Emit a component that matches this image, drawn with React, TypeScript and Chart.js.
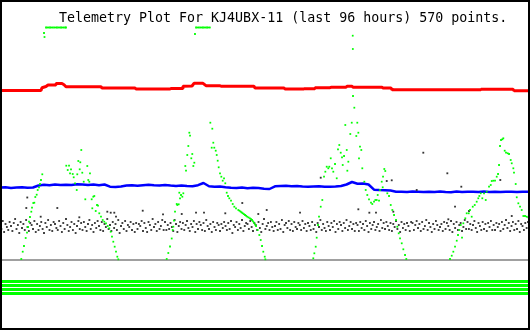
import React, { useEffect, useRef } from "react";
import { Chart, registerables } from "chart.js";

Chart.register(...registerables);

const TITLE = "Telemetry Plot For KJ4UBX-11 (last 96 hours) 570 points.";
const HOURS_SPAN = 96.36;

// Red channel (step-like trace)
const redHours = [0, 7.45, 7.64, 8.36, 8.73, 10, 10.18, 11.27, 11.64, 12, 18.36, 18.55, 24.55, 24.73, 30.91, 31.09, 33.09, 33.27, 34.91, 35.27, 36.91, 37.45, 40, 40.18, 46.18, 46.36, 51.64, 51.82, 55.09, 55.27, 57.09, 57.27, 60, 60.18, 62.91, 63.09, 64, 64.18, 69.45, 69.64, 71.09, 71.27, 87.27, 87.45, 93.27, 93.45, 96.36];
const redValues = [169.5, 169.5, 172.3, 173.5, 175, 175, 176.5, 176.5, 175.3, 173.3, 173.3, 172, 172, 171, 171, 171.5, 171.5, 173.7, 174, 176.7, 176.7, 174.3, 174.3, 173.7, 173.7, 172, 172, 171, 171, 171.3, 171.3, 172.3, 172.3, 172.7, 172.7, 173.7, 173.7, 172.7, 172.7, 172, 172, 170.3, 170.3, 170.7, 170.7, 169.3, 169.3];

// Blue channel, one sample per hour
const blueStepHours = 1;
const blueValues = [
  72.5, 72.7, 72, 72.5, 72.8, 72.2, 72.5, 74.5, 75.3, 74.8,
  75.5, 75, 75.3, 75, 75.8, 75.4, 75, 75.5, 74.8, 75.5,
  73.3, 73, 73.5, 74.5, 74.7, 74.3, 74.8, 75.2, 74.7, 74.5,
  75, 74.4, 74, 74.5, 74, 73.8, 74.8, 77, 73.7, 73.3,
  73.5, 72.8, 72.2, 72, 72.5, 71.8, 72.2, 72, 71.3, 71,
  73.7, 74, 74.2, 73.8, 74, 73.5, 73.3, 73.5, 73.7, 73.3,
  73.2, 73.5, 74, 75.5, 78, 76.3, 76.5, 75.5, 70.3, 70,
  69.8, 69.5, 68.3, 68.2, 68, 68.4, 68.2, 68, 68.3, 68.1,
  68.5, 68, 67.8, 68.4, 68, 68.3, 68.2, 68, 68.4, 68.1,
  68.2, 68, 68.3, 68.2, 68.1, 68.3, 68.2
];

// Black channel, one sample every quarter hour
const blackStepHours = 0.25;
const blackValues = [
  37, 31, 39, 28, 36, 33, 30, 38, 34, 29, 37, 41, 31, 35, 27, 38, 32, 36, 30, 40,
  33, 29, 37, 35, 31, 39, 28, 36, 30, 34, 38, 31, 27, 37, 33, 40, 30, 35, 29, 38,
  36, 32, 30, 39, 34, 28, 37, 31, 41, 35, 29, 33, 38, 30, 36, 27, 34, 39, 31, 37,
  30, 38, 33, 29, 36, 40, 31, 35, 28, 37, 32, 39, 34, 30, 38, 29, 36, 33, 41, 31,
  35, 29, 38, 32, 36, 30, 40, 27, 34, 37, 31, 39, 29, 35, 33, 38, 30, 36, 28, 37,
  31, 36, 34, 39, 29, 37, 32, 28, 38, 35, 30, 41, 33, 36, 29, 38, 31, 34, 40, 30,
  38, 30, 35, 31, 37, 33, 29, 40, 36, 28, 34, 38, 31, 37, 30, 35, 39, 32, 29, 36,
  33, 39, 28, 36, 31, 38, 35, 30, 37, 29, 40, 34, 31, 36, 28, 38, 33, 30, 37, 35,
  29, 36, 32, 38, 34, 30, 37, 31, 39, 27, 35, 33, 38, 30, 36, 32, 40, 29, 34, 37,
  36, 31, 39, 33, 29, 37, 35, 30, 38, 32, 28, 36, 41, 31, 34, 37, 30, 38, 33, 29,
  34, 38, 30, 36, 31, 40, 28, 35, 37, 32, 39, 30, 36, 29, 38, 33, 31, 37, 35, 30,
  39, 32, 36, 29, 37, 34, 30, 38, 31, 35, 28, 37, 33, 40, 30, 36, 32, 29, 38, 34,
  30, 37, 33, 39, 28, 36, 31, 38, 35, 29, 37, 32, 40, 30, 34, 38, 31, 36, 29, 37,
  35, 29, 38, 32, 36, 30, 39, 34, 28, 37, 31, 35, 38, 30, 33, 36, 29, 40, 32, 37,
  31, 38, 34, 30, 37, 29, 36, 33, 39, 31, 35, 28, 38, 32, 36, 30, 37, 34, 29, 38,
  37, 30, 35, 39, 32, 36, 29, 38, 31, 34, 40, 30, 37, 33, 28, 36, 31, 39, 35, 30,
  33, 36, 29, 38, 31, 37, 34, 30, 39, 28, 36, 32, 38, 30, 35, 37, 29, 33, 40, 31,
  38, 31, 36, 30, 35, 39, 32, 28, 37, 34, 30, 38, 31, 36, 29, 37, 33, 39, 30, 35,
  30, 37, 33, 36, 29, 38, 31, 35, 40, 32, 37, 29, 34, 38, 30, 36, 31, 39, 28, 36,
  34, 30, 37, 32, 38
];
const blackOutlierHours = [4.78, 4.96, 7.4, 10.42, 14.42, 19.51, 20.13, 20.78, 21.09, 25.95, 29.64, 33.04, 35.64, 37.09, 40.96, 44.05, 46.96, 48.49, 54.55, 58.31, 65.15, 67.15, 68.36, 70.31, 71.22, 71.51, 75.76, 76.96, 81.33, 81.51, 82.73, 83.87, 85.27, 90.96, 93.04];
const blackOutlierValues = [52, 62.5, 43.3, 52, 42.7, 48.3, 47.3, 47.3, 43.3, 49.3, 45.7, 46, 47.3, 47.3, 46.7, 57, 46, 50, 47.3, 82.3, 50.7, 47.3, 47.3, 79, 79.7, 48.3, 70, 107.3, 86.7, 40.7, 53.3, 73.3, 49, 80, 44];

// Green channel
const greenHours = [
  3.87, 4.13, 4.36, 4.67, 4.91, 5.09, 5.27, 5.45, 5.69, 5.82, 6.05, 6.24, 6.42, 6.67, 6.85, 7.09, 7.27, 7.45, 7.69, 8.0, 8.09,
  8.36, 8.6, 8.85, 9.1, 9.35, 9.6, 9.85, 10.1, 10.35, 10.6, 10.85, 11.1, 11.35, 11.6, 11.85, 12.0,
  12.05, 12.31, 12.55, 12.73, 12.91, 13.22, 13.4, 13.64, 13.95, 14.05, 14.24, 14.49, 14.6, 14.78, 14.96, 15.22, 15.51, 15.87, 16.05, 16.24, 16.36, 16.67, 16.78, 16.96, 17.15, 17.4, 17.64, 17.82,
  18.05, 18.36, 18.67, 18.96, 19.27, 19.58, 19.87, 20.13, 20.36, 20.6, 20.85, 21.09, 21.33, 21.51,
  30.31, 30.6, 30.91, 31.22, 31.4, 31.51, 31.64, 31.82, 32.13, 32.24, 32.49, 32.6, 32.73, 32.91, 33.15, 33.33, 33.69, 33.82, 34.05, 34.24, 34.42, 34.55, 34.78, 34.96, 35.15, 35.33, 35.45,
  35.64, 35.9, 36.15, 36.4, 36.65, 36.9, 37.15, 37.4, 37.65, 37.9, 38.15,
  38.24, 38.49, 38.6, 38.78, 38.96, 39.22, 39.4, 39.58, 39.76, 40, 40.24, 40.49, 40.73, 40.96, 41.22, 41.45, 41.69, 42, 42.31, 42.6, 42.91, 43.33, 43.55, 43.76, 43.95, 44.13, 44.35, 44.55, 44.75, 44.96, 45.2, 45.45, 45.65, 45.82, 46.0, 46.18, 46.37, 46.55, 46.85, 47.15, 47.4, 47.64, 47.87, 48.13, 48.24,
  56.96, 57.15, 57.4, 57.58, 57.82, 58, 58.31, 58.6, 58.91, 59.15, 59.4, 59.69, 59.87, 60.13, 60.36, 60.6, 60.91, 61.22, 61.45, 61.69, 61.95, 62.18, 62.31, 62.55, 62.78, 63.04, 63.15, 63.33, 63.69, 63.95, 64.13, 64.15, 64.18, 64.42, 64.78, 64.96, 65.15, 65.27, 65.45, 65.69, 65.87, 66.24, 66.49, 66.78, 67.09, 67.45, 67.69, 68, 68.24, 68.49, 68.67, 68.91, 69.09, 69.4, 69.58, 69.64, 69.87, 70.05, 70.42, 70.73, 71.04, 71.33, 71.64, 72, 72.24, 72.49, 72.73, 73.04, 73.33, 73.64, 73.87,
  81.82, 82.13, 82.42, 82.73, 83.04, 83.27, 83.51, 83.76, 84, 84.24, 84.6, 84.85, 85.22, 85.45, 85.76, 85.95, 86.31, 86.67, 86.96, 87.15, 87.4, 87.69, 88, 88.31, 88.49, 88.91, 89.22, 89.4, 89.69, 90, 90.31, 90.55, 90.73, 90.91, 91.09, 91.33, 91.51, 91.76, 92, 92.31, 92.55, 92.85, 93.04, 93.33, 93.45, 93.76, 93.95, 94.24, 94.55, 94.85, 95.15, 95.45, 95.76, 96.05
];
const greenValues = [
  1, 8.3, 14, 22, 27.3, 33, 38.3, 43, 48.3, 52.3, 57, 57.3, 63, 65.3, 70, 72.7, 76, 80, 85.7, 227, 223,
  232.5, 232.5, 232.5, 232.5, 232.5, 232.5, 232.5, 232.5, 232.5, 232.5, 232.5, 232.5, 232.5, 232.5, 232.5, 232.5,
  94.3, 90, 94.3, 86.7, 90.7, 86, 82.7, 76.7, 70, 85.7, 99, 90.7, 97.7, 110, 87.3, 78.3, 60.7, 94, 80, 78.3, 86.7, 60.7, 51.7, 63.3, 64, 49, 55, 54.3,
  46.7, 43.3, 40, 38.3, 36.7, 34, 31.7, 28.3, 23.3, 18.3, 13.3, 8.3, 3.3, 0.7,
  1, 7, 13.5, 21.5, 30, 33.3, 39.3, 48.3, 56, 55, 55.7, 67.3, 61.7, 65, 63.3, 66.7, 94, 89.3, 105, 114, 127.3, 124.3, 101.7, 106, 94, 97.3, 226,
  232.5, 232.5, 232.5, 232.5, 232.5, 232.5, 232.5, 232.5, 232.5, 232.5, 232.5,
  137.3, 112.3, 131.3, 117.3, 112.3, 109.3, 105, 99.3, 92.7, 86.7, 83.3, 79.3, 81.7, 76.7, 67.3, 64, 61.7, 59.3, 56, 53.3, 51.7, 50, 49.2, 48.3, 47.5, 46.7, 45.8, 45, 44.2, 43.3, 42.5, 41.7, 40.8, 40, 38.7, 37.3, 35.7, 34, 30, 25, 20, 14, 8.3, 3.3, 0.7,
  1.7, 6.7, 13.3, 22.3, 35, 43.3, 53.3, 60, 83.3, 88.3, 93.3, 91.7, 93.3, 101.7, 91.7, 88.3, 96, 81.7, 110.7, 115, 107.3, 102.7, 95, 104, 135, 110, 89.3, 98.3, 126, 137.3, 224.3, 211, 164, 152.3, 124, 137.3, 127.3, 101.7, 113.3, 110, 91.7, 78.3, 70, 65, 60.7, 57.3, 56, 58.3, 60, 60, 65, 59.3, 70, 78.3, 72.7, 83.3, 91, 89, 66.7, 64, 55, 50, 45, 40, 33.3, 26.7, 21.7, 16.7, 10.7, 5, 1,
  1, 4.3, 8.3, 13.3, 19.3, 25, 30, 35, 22.3, 36.7, 41.7, 46.7, 46.7, 50, 43.3, 53.3, 55, 58.3, 61.7, 64, 66.7, 61.7, 66.7, 60, 68.3, 73.3, 75, 79, 79.3, 79.3, 83.3, 86, 95, 114, 120, 120.7, 121.7, 109.3, 107.3, 106.7, 106, 100, 96.7, 91.7, 87.3, 76, 62.7, 56.7, 53.3, 50, 44, 44, 43.3, 42.7
];

const zeroLevel = 0;
const statusLevels = [-21.5, -25.5, -29.5, -33.5];

const Y_MIN = -70;
const Y_MAX = 260;

const framePlugin = {
  id: "frameAndTitle",
  beforeDraw(chart: any) {
    const ctx = chart.ctx;
    ctx.save();
    ctx.fillStyle = "#ffffff";
    ctx.fillRect(0, 0, chart.width, chart.height);
    ctx.restore();
  },
  afterDraw(chart: any) {
    const ctx = chart.ctx;
    ctx.save();
    ctx.strokeStyle = "#000000";
    ctx.lineWidth = 2;
    ctx.strokeRect(1, 1, chart.width - 2, chart.height - 2);
    ctx.fillStyle = "#000000";
    ctx.font = '13.3px "DejaVu Sans Mono", monospace';
    ctx.textBaseline = "alphabetic";
    ctx.textAlign = "left";
    ctx.fillText(TITLE, 59, 22);
    ctx.restore();
  },
};

export default function App() {
  const canvasRef = useRef<HTMLCanvasElement | null>(null);

  useEffect(() => {
    if (!canvasRef.current) return;

    const green = greenHours.map((h, i) => ({ x: h, y: greenValues[i] }));
    const black = blackValues
      .map((v, i) => ({ x: i * blackStepHours, y: v }))
      .concat(blackOutlierHours.map((h, i) => ({ x: h, y: blackOutlierValues[i] })));
    const blue = blueValues.map((v, i) => ({ x: i * blueStepHours, y: v }));
    const red = redHours.map((h, i) => ({ x: h, y: redValues[i] }));
    const flat = (level: number) => [
      { x: 0, y: level },
      { x: HOURS_SPAN, y: level },
    ];

    const lineDs = (label: string, data: any[], color: string, width: number) => ({
      label,
      data,
      showLine: true,
      borderColor: color,
      backgroundColor: color,
      borderWidth: width,
      borderJoinStyle: "bevel",
      pointRadius: 0,
      fill: false,
      tension: 0,
    });

    const chart = new Chart(canvasRef.current, {
      type: "scatter",
      data: {
        datasets: [
          {
            label: "green",
            data: green,
            pointStyle: "rect",
            pointRadius: 1.25,
            pointBorderWidth: 0,
            backgroundColor: "#00ff00",
            borderColor: "#00ff00",
          } as any,
          {
            label: "black",
            data: black,
            pointStyle: "rect",
            pointRadius: 1.3,
            pointBorderWidth: 0,
            backgroundColor: "#333333",
            borderColor: "#333333",
          } as any,
          lineDs("blue", blue, "#0000ff", 2.5),
          lineDs("red", red, "#ff0000", 3),
          lineDs("zero", flat(zeroLevel), "#a0a0a0", 2),
          ...statusLevels.map((lv, i) => lineDs("status" + i, flat(lv), "#00ff00", 3)),
        ] as any,
      },
      options: {
        responsive: false,
        animation: false,
        events: [],
        layout: { padding: 0, autoPadding: false },
        plugins: {
          legend: { display: false },
          tooltip: { enabled: false },
          title: { display: false },
        },
        scales: {
          x: { type: "linear", min: 0, max: HOURS_SPAN, display: false },
          y: { type: "linear", min: Y_MIN, max: Y_MAX, display: false },
        },
      } as any,
      plugins: [framePlugin],
    });

    return () => chart.destroy();
  }, []);

  return (
    <div style={{ position: "fixed", left: 0, top: 0, width: 530, height: 330, background: "#fff" }}>
      <canvas ref={canvasRef} width={530} height={330} style={{ display: "block" }} />
    </div>
  );
}
